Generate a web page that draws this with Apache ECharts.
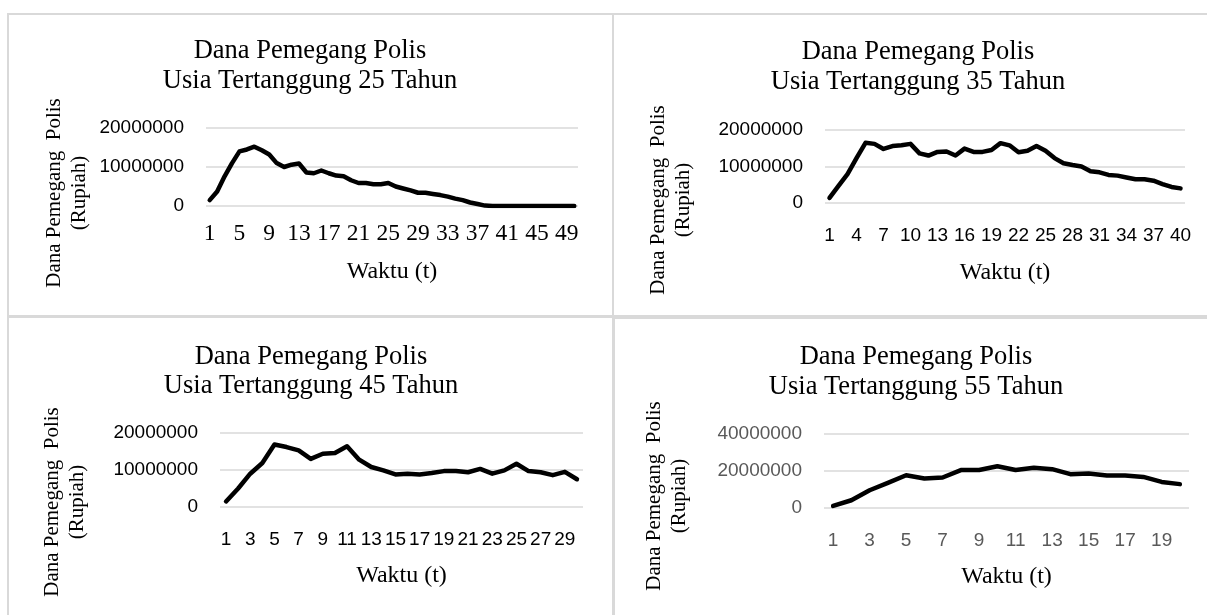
<!DOCTYPE html>
<html>
<head>
<meta charset="utf-8">
<script src="https://cdn.jsdelivr.net/npm/echarts@6/dist/echarts.min.js"></script>
<style>
html,body{margin:0;padding:0;background:#fff;}
#c{width:1207px;height:615px;}
</style>
</head>
<body>
<div id="c"></div>
<script>
// ---- data ----
const cat25 = [1,2,3,4,5,6,7,8,9,10,11,12,13,14,15,16,17,18,19,20,21,22,23,24,25,26,27,28,29,30,31,32,33,34,35,36,37,38,39,40,41,42,43,44,45,46,47,48,49,50];
const val25 = [1500000,3700000,7600000,11000000,14000000,14500000,15200000,14300000,13200000,11000000,
  10000000,10600000,10900000,8600000,8400000,9100000,8400000,7800000,7600000,6600000,
  5900000,5900000,5600000,5600000,5900000,5000000,4500000,4000000,3400000,3400000,
  3100000,2800000,2400000,1900000,1500000,900000,500000,100000,0,0,
  0,0,0,0,0,0,0,0,0,0];
const cat35 = [1,2,3,4,5,6,7,8,9,10,11,12,13,14,15,16,17,18,19,20,21,22,23,24,25,26,27,28,29,30,31,32,33,34,35,36,37,38,39,40];
const val35 = [1400000,4700000,7900000,12300000,16500000,16200000,14800000,15600000,15800000,16200000,
  13600000,13000000,14000000,14100000,13000000,14900000,14000000,14000000,14500000,16400000,
  15800000,13900000,14300000,15600000,14300000,12300000,10900000,10400000,10000000,8700000,
  8400000,7700000,7500000,7000000,6500000,6500000,6100000,5200000,4400000,4000000];
const cat45 = [1,2,3,4,5,6,7,8,9,10,11,12,13,14,15,16,17,18,19,20,21,22,23,24,25,26,27,28,29,30];
const val45 = [1500000,5000000,9000000,11900000,16900000,16200000,15300000,13000000,14400000,14600000,
  16400000,12800000,10800000,9900000,8800000,9000000,8800000,9200000,9700000,9700000,
  9400000,10300000,9000000,9900000,11700000,9700000,9400000,8600000,9500000,7500000];
const cat55 = [1,2,3,4,5,6,7,8,9,10,11,12,13,14,15,16,17,18,19,20];
const val55 = [1100000,4200000,9600000,13600000,17700000,15900000,16500000,20500000,20500000,22600000,
  20500000,21700000,21000000,18300000,18600000,17600000,17600000,16800000,14100000,12900000];
const titleLine1 = 'Dana Pemegang Polis';
const titles = ['Usia Tertanggung 25 Tahun','Usia Tertanggung 35 Tahun','Usia Tertanggung 45 Tahun','Usia Tertanggung 55 Tahun'];
const yName = 'Dana Pemegang  Polis\n(Rupiah)';
const xName = 'Waktu (t)';

// ---- layout ----
const SERIF = '"Liberation Serif", "Times New Roman", serif';
const SANS = '"Liberation Sans", Arial, sans-serif';
const panels = [
  {grid:{left:206, top:128, width:372, height:78}, title:{x:310, y1:51, y2:81}, yt:{x:67, y:193}, labelInt:3, xFont:SERIF, xSize:23.5, xColor:'#000', yColor:'#000', xMargin:16, nameGap:54, max:20000000, interval:10000000, cats:cat25, vals:val25},
  {grid:{left:825, top:130, width:360, height:73}, title:{x:918, y1:52, y2:82}, yt:{x:671, y:200}, labelInt:2, xFont:SANS, xSize:19, xColor:'#000', yColor:'#000', xMargin:23, nameGap:58, max:20000000, interval:10000000, cats:cat35, vals:val35},
  {grid:{left:220, top:433, width:363, height:74}, title:{x:311, y1:357, y2:386}, yt:{x:65, y:502}, labelInt:1, xFont:SANS, xSize:19, xColor:'#000', yColor:'#000', xMargin:23, nameGap:57, max:20000000, interval:10000000, cats:cat45, vals:val45},
  {grid:{left:824, top:434, width:365, height:74}, title:{x:916, y1:357, y2:387}, yt:{x:667, y:496}, labelInt:1, xFont:SANS, xSize:19, xColor:'#595959', yColor:'#595959', xMargin:23, nameGap:57, max:40000000, interval:20000000, cats:cat55, vals:val55}
];

const grids = [], xAxes = [], yAxes = [], series = [], graphics = [];
// panel borders
[[8,14,605,302],[613,14,610,302],[8,317,605,310],[614,318,610,310]].forEach(r => {
  graphics.push({type:'rect', shape:{x:r[0], y:r[1], width:r[2], height:r[3]}, style:{fill:null, stroke:'#d9d9d9', lineWidth:2}, silent:true});
});
panels.forEach((p, i) => {
  grids.push(Object.assign({outerBoundsMode:'none', containLabel:false}, p.grid));
  xAxes.push({
    type:'category', gridIndex:i, data:p.cats, boundaryGap:true,
    axisLine:{show:false}, axisTick:{show:false},
    axisLabel:{interval:p.labelInt, fontFamily:p.xFont, fontSize:p.xSize, color:p.xColor, margin:p.xMargin, hideOverlap:false},
    name:xName, nameLocation:'middle', nameGap:p.nameGap,
    nameTextStyle:{fontFamily:SERIF, fontSize:24, color:'#000'}
  });
  yAxes.push({
    type:'value', gridIndex:i, min:0, max:p.max, interval:p.interval,
    axisLine:{show:false}, axisTick:{show:false},
    splitLine:{lineStyle:{color:'#d9d9d9', width:1.5}},
    axisLabel:{fontFamily:SANS, fontSize:19, color:p.yColor, margin:22, formatter: v => String(v)}
  });
  series.push({
    type:'line', xAxisIndex:i, yAxisIndex:i, data:p.vals, showSymbol:false, symbol:'none',
    lineStyle:{color:'#000', width:4.5, cap:'round', join:'round'}, silent:true
  });
  graphics.push({type:'text', x:p.title.x, y:p.title.y1, style:{text:titleLine1, font:'26.5px '+SERIF, fill:'#000', textAlign:'center', textVerticalAlign:'middle'}});
  graphics.push({type:'text', x:p.title.x, y:p.title.y2, style:{text:titles[i], font:'26.5px '+SERIF, fill:'#000', textAlign:'center', textVerticalAlign:'middle'}});
  graphics.push({type:'text', x:p.yt.x, y:p.yt.y, rotation:Math.PI/2, style:{text:yName, font:'21px '+SERIF, fill:'#000', textAlign:'center', textVerticalAlign:'middle', lineHeight:25}});
});

const chart = echarts.init(document.getElementById('c'), null, {renderer:'canvas'});
chart.setOption({
  animation:false,
  backgroundColor:'#fff',
  grid:grids, xAxis:xAxes, yAxis:yAxes, series:series,
  graphic:{elements:graphics}
});
</script>
</body>
</html>
